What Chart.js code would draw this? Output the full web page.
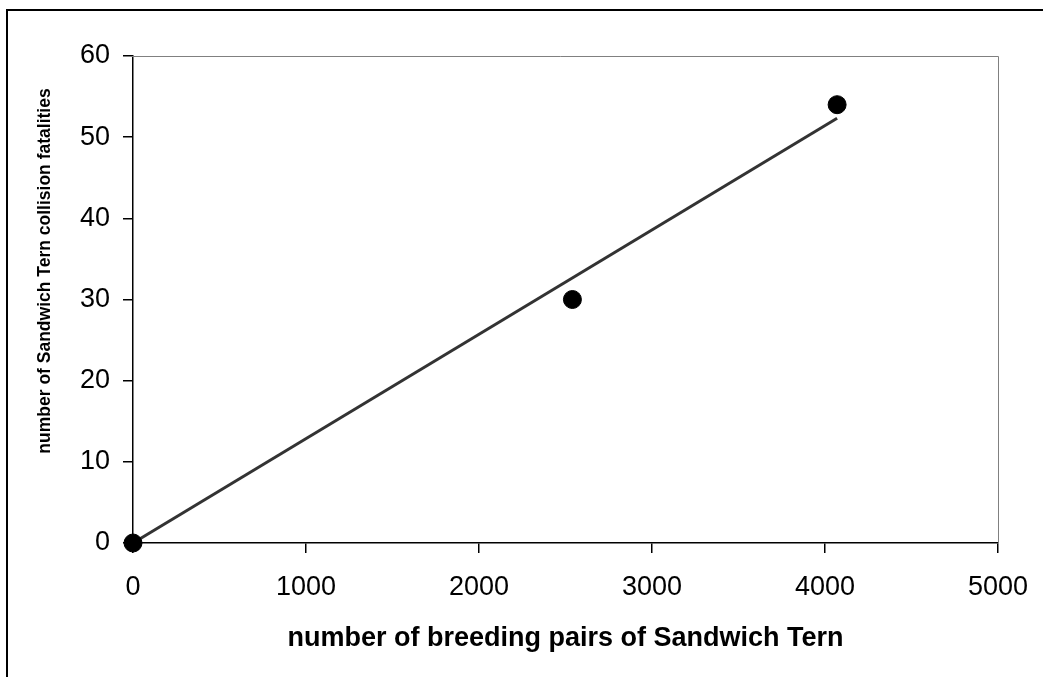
<!DOCTYPE html>
<html>
<head>
<meta charset="utf-8">
<script src="https://cdn.jsdelivr.net/npm/chart.js@4.4.0/dist/chart.umd.min.js"></script>
<style>
  html, body { margin: 0; padding: 0; background: #fff; }
  #wrap { width: 1043px; height: 677px; position: relative; }
</style>
</head>
<body>
<div id="wrap"><canvas id="chart" width="1043" height="677"></canvas></div>
<script>
// breeding pairs vs collision fatalities
const pairs = [0, 2540, 4070];
const fatalities = [0, 30, 54];
const xTicks = [0, 1000, 2000, 3000, 4000, 5000];
const yTicks = [0, 10, 20, 30, 40, 50, 60];
const yTitle = 'number of Sandwich Tern collision fatalities';

// linear trendline forced through the origin
let sxy = 0, sxx = 0;
pairs.forEach((x, i) => { sxy += x * fatalities[i]; sxx += x * x; });
const slope = sxy / sxx;
const trendX = [0, Math.max(...pairs)];

const font = "'Liberation Sans', Arial, sans-serif";

// frames + y title (sits a bit above the plot centre in the original)
const framePlugin = {
    id: 'frame',
    beforeDraw(chart) {
        const ctx = chart.ctx;
        ctx.save();
        ctx.fillStyle = '#fff';
        ctx.fillRect(0, 0, chart.width, chart.height);
        ctx.strokeStyle = '#000';
        ctx.lineWidth = 2;
        ctx.beginPath();
        ctx.moveTo(7, chart.height);
        ctx.lineTo(7, 10);
        ctx.lineTo(chart.width, 10);
        ctx.stroke();
        ctx.restore();
    },
    afterDatasetsDraw(chart) {
        const a = chart.chartArea;
        const ctx = chart.ctx;
        ctx.save();
        ctx.strokeStyle = '#808080';
        ctx.lineWidth = 1;
        ctx.beginPath();
        ctx.moveTo(a.left - 10, a.top + 0.5);
        ctx.lineTo(a.right + 0.5, a.top + 0.5);
        ctx.lineTo(a.right + 0.5, a.bottom);
        ctx.stroke();
        ctx.restore();
    },
    afterDraw(chart) {
        const ctx = chart.ctx;
        ctx.save();
        ctx.translate(45, 271);
        ctx.rotate(-Math.PI / 2);
        ctx.font = 'bold 17.5px ' + font;
        ctx.fillStyle = '#000';
        ctx.textAlign = 'center';
        ctx.textBaseline = 'middle';
        ctx.fillText(yTitle, 0, 0);
        ctx.restore();
    }
};

new Chart(document.getElementById('chart'), {
    type: 'scatter',
    data: {
        datasets: [
            {
                label: 'trend',
                type: 'line',
                data: trendX.map(x => ({ x: x, y: slope * x })),
                borderColor: '#333',
                borderWidth: 3,
                pointRadius: 0,
                fill: false,
                order: 2
            },
            {
                label: 'fatalities',
                data: pairs.map((x, i) => ({ x: x, y: fatalities[i] })),
                backgroundColor: '#000',
                borderColor: '#000',
                pointRadius: 9,
                pointHoverRadius: 9,
                order: 1
            }
        ]
    },
    options: {
        responsive: false,
        animation: false,
        clip: false,
        layout: { padding: { left: 34, top: 56, right: 45, bottom: 22 } },
        plugins: { legend: { display: false }, tooltip: { enabled: false } },
        scales: {
            x: {
                type: 'linear',
                min: 0,
                max: 5000,
                afterBuildTicks: s => { s.ticks = xTicks.map(v => ({ value: v })); },
                afterFit: s => { s.height = 112; s.paddingLeft = 0; s.paddingRight = 0; },
                grid: { drawOnChartArea: false, drawTicks: true, tickLength: 10, color: '#000', lineWidth: 1.5 },
                border: { color: '#000', width: 1.5 },
                ticks: { color: '#000', padding: 18, maxRotation: 0, callback: v => String(v), font: { family: font, size: 27 } },
                title: {
                    display: true,
                    text: 'number of breeding pairs of Sandwich Tern',
                    color: '#000',
                    padding: 0,
                    font: { family: font, size: 27, weight: 'bold' }
                }
            },
            y: {
                type: 'linear',
                min: 0,
                max: 60,
                afterBuildTicks: s => { s.ticks = yTicks.map(v => ({ value: v })); },
                afterFit: s => { s.width = 99; s.paddingTop = 0; s.paddingBottom = 0; },
                grid: { drawOnChartArea: false, drawTicks: true, tickLength: 10, color: '#000', lineWidth: 1.5 },
                border: { color: '#000', width: 1.5 },
                ticks: { color: '#000', padding: 13, font: { family: font, size: 27 } },
                title: { display: false }
            }
        }
    },
    plugins: [framePlugin]
});
</script>
</body>
</html>
